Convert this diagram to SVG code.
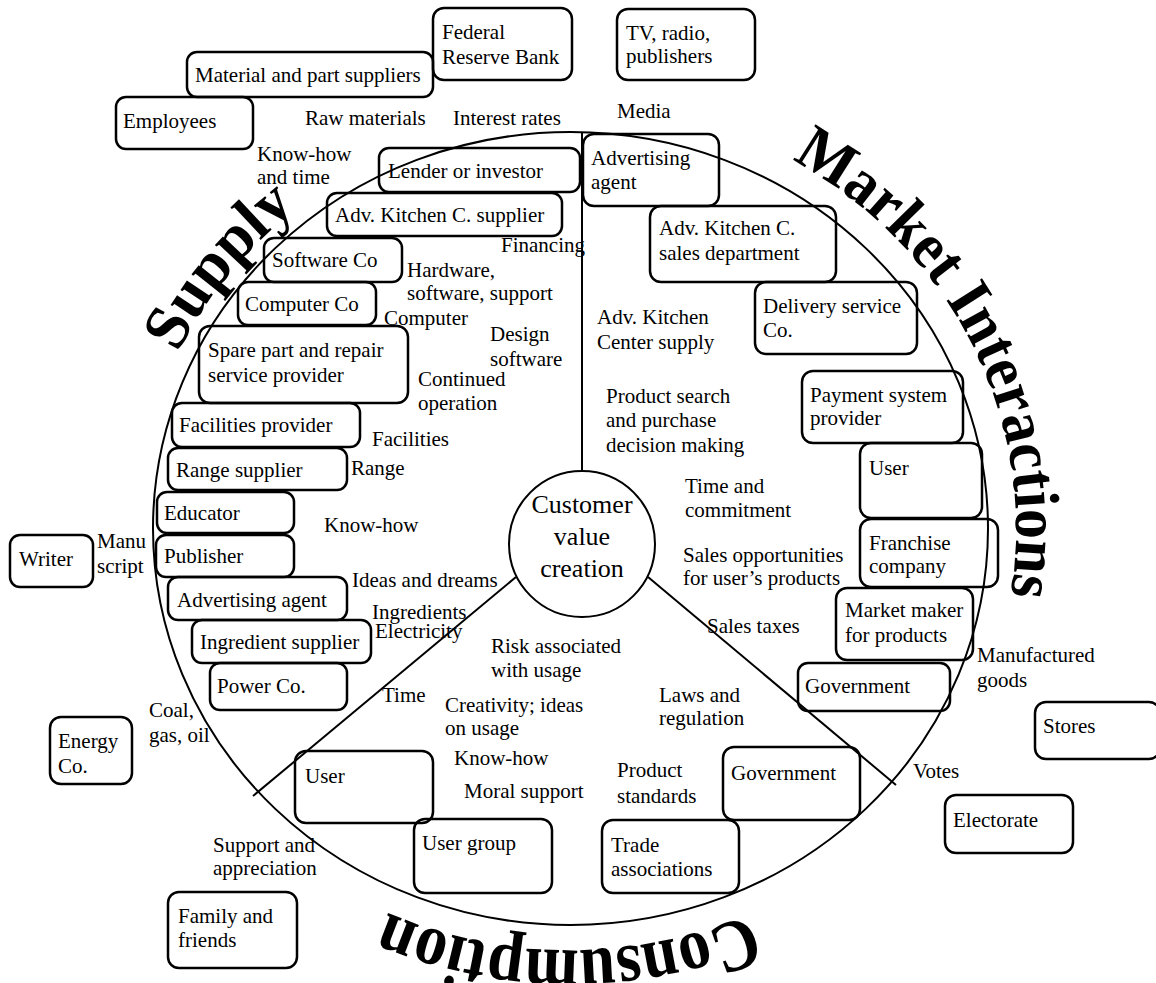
<svg xmlns="http://www.w3.org/2000/svg" width="1156" height="983" viewBox="0 0 1156 983">
<style>
.box{fill:none;stroke:#000;stroke-width:2.5}
.ln{fill:none;stroke:#000;stroke-width:2}
text{font-family:"Liberation Serif","Times New Roman",serif;font-size:21px;fill:#000}
.big{font-size:64px;font-weight:bold}
.cv{font-size:26px;text-anchor:middle}
</style>
<defs>
<path id="pS" d="M 137,528.5 A 433.5,412.5 0 1 1 1004,528.5 A 433.5,412.5 0 1 1 137,528.5"/>
<path id="pM" d="M 125,528.5 A 445.5,424.5 0 1 1 1016,528.5 A 445.5,424.5 0 1 1 125,528.5"/>
<path id="pC" d="M 128,528.5 A 442.5,421.5 0 1 1 1013,528.5 A 442.5,421.5 0 1 1 128,528.5"/>
</defs>
<rect width="1156" height="983" fill="#fff"/>
<g id="connectors">
<ellipse class="ln" cx="570.5" cy="528.5" rx="417.5" ry="396.5"/>
<line class="ln" x1="582" y1="132" x2="582" y2="472"/>
<line class="ln" x1="516" y1="577" x2="253" y2="796"/>
<line class="ln" x1="648" y1="577" x2="896" y2="785"/>
</g>
<g id="sector-titles">
<text class="big"><textPath href="#pS" startOffset="182" textLength="188" lengthAdjust="spacingAndGlyphs">Supply</textPath></text>
<text class="big"><textPath href="#pM" startOffset="914" textLength="520" lengthAdjust="spacingAndGlyphs">Market Interactions</textPath></text>
<text class="big" style="font-size:74px"><textPath href="#pC" startOffset="1852" textLength="372" lengthAdjust="spacingAndGlyphs">Consumption</textPath></text>
</g>
<g id="customer-value-creation"><circle class="ln" cx="582" cy="544" r="73"/><text class="cv" x="582" y="513">Customer</text><text class="cv" x="582" y="545">value</text><text class="cv" x="582" y="577">creation</text></g>
<g id="federal-reserve-bank"><rect class="box" x="433" y="8" width="139" height="72" rx="11"/><text x="442" y="39">Federal</text><text x="442" y="64">Reserve Bank</text></g>
<g id="tv-radio-publishers"><rect class="box" x="617" y="9" width="138" height="71" rx="11"/><text x="626" y="40">TV, radio,</text><text x="626" y="63">publishers</text></g>
<g id="material-suppliers"><rect class="box" x="187" y="52" width="246" height="45" rx="10"/><text x="195" y="82">Material and part suppliers</text></g>
<g id="employees"><rect class="box" x="116" y="97" width="137" height="52" rx="10"/><text x="123" y="128">Employees</text></g>
<g id="lender"><rect class="box" x="379" y="148" width="201" height="44" rx="10"/><text x="388" y="178">Lender or investor</text></g>
<g id="advertising-agent-top"><rect class="box" x="583" y="134" width="136" height="72" rx="11"/><text x="591" y="165">Advertising</text><text x="591" y="189">agent</text></g>
<g id="akc-supplier"><rect class="box" x="327" y="193" width="235" height="43" rx="10"/><text x="335" y="222">Adv. Kitchen C. supplier</text></g>
<g id="akc-sales"><rect class="box" x="650" y="206" width="186" height="76" rx="11"/><text x="659" y="235">Adv. Kitchen C.</text><text x="659" y="260">sales department</text></g>
<g id="software-co"><rect class="box" x="264" y="238" width="138" height="44" rx="10"/><text x="272" y="267">Software Co</text></g>
<g id="computer-co"><rect class="box" x="238" y="282" width="138" height="43" rx="10"/><text x="245" y="311">Computer Co</text></g>
<g id="delivery-service"><rect class="box" x="755" y="282" width="162" height="72" rx="11"/><text x="763" y="313">Delivery service</text><text x="763" y="337">Co.</text></g>
<g id="spare-part"><rect class="box" x="199" y="326" width="209" height="77" rx="11"/><text x="208" y="357">Spare part and repair</text><text x="208" y="382">service provider</text></g>
<g id="payment-system"><rect class="box" x="802" y="371" width="161" height="72" rx="11"/><text x="810" y="402">Payment system</text><text x="810" y="425">provider</text></g>
<g id="facilities-provider"><rect class="box" x="172" y="403" width="188" height="44" rx="10"/><text x="179" y="432">Facilities provider</text></g>
<g id="range-supplier"><rect class="box" x="168" y="448" width="179" height="42" rx="10"/><text x="176" y="477">Range supplier</text></g>
<g id="user-right"><rect class="box" x="860" y="443" width="122" height="75" rx="11"/><text x="869" y="475">User</text></g>
<g id="educator"><rect class="box" x="157" y="492" width="137" height="41" rx="10"/><text x="164" y="520">Educator</text></g>
<g id="publisher"><rect class="box" x="156" y="535" width="138" height="42" rx="10"/><text x="164" y="563">Publisher</text></g>
<g id="writer"><rect class="box" x="10" y="535" width="83" height="52" rx="10"/><text x="19" y="566">Writer</text></g>
<g id="franchise"><rect class="box" x="860" y="519" width="138" height="68" rx="11"/><text x="869" y="550">Franchise</text><text x="869" y="573">company</text></g>
<g id="advertising-agent-left"><rect class="box" x="168" y="577" width="179" height="43" rx="10"/><text x="177" y="607">Advertising agent</text></g>
<g id="ingredient-supplier"><rect class="box" x="192" y="620" width="179" height="43" rx="10"/><text x="200" y="649">Ingredient supplier</text></g>
<g id="market-maker"><rect class="box" x="836" y="588" width="137" height="72" rx="11"/><text x="845" y="617">Market maker</text><text x="845" y="642">for products</text></g>
<g id="power-co"><rect class="box" x="210" y="663" width="137" height="47" rx="10"/><text x="217" y="693">Power Co.</text></g>
<g id="government-right"><rect class="box" x="798" y="663" width="152" height="48" rx="10"/><text x="805" y="693">Government</text></g>
<g id="stores"><rect class="box" x="1035" y="702" width="125" height="57" rx="11"/><text x="1043" y="733">Stores</text></g>
<g id="energy-co"><rect class="box" x="50" y="717" width="82" height="67" rx="11"/><text x="58" y="748">Energy</text><text x="58" y="773">Co.</text></g>
<g id="user-bottom"><rect class="box" x="295" y="751" width="138" height="72" rx="11"/><text x="305" y="783">User</text></g>
<g id="government-bottom"><rect class="box" x="723" y="747" width="137" height="73" rx="11"/><text x="731" y="780">Government</text></g>
<g id="electorate"><rect class="box" x="945" y="795" width="128" height="58" rx="11"/><text x="953" y="827">Electorate</text></g>
<g id="user-group"><rect class="box" x="414" y="819" width="138" height="74" rx="11"/><text x="422" y="850">User group</text></g>
<g id="trade-associations"><rect class="box" x="602" y="820" width="137" height="73" rx="11"/><text x="611" y="852">Trade</text><text x="611" y="876">associations</text></g>
<g id="family-friends"><rect class="box" x="168" y="892" width="129" height="76" rx="11"/><text x="178" y="923">Family and</text><text x="178" y="947">friends</text></g>
<g id="flow-labels">
<text x="305" y="125">Raw materials</text>
<text x="453" y="125">Interest rates</text>
<text x="617" y="118">Media</text>
<text x="257" y="161">Know-how</text><text x="257" y="184">and time</text>
<text x="501" y="252">Financing</text>
<text x="407" y="277">Hardware,</text><text x="407" y="300">software, support</text>
<text x="384" y="325">Computer</text>
<text x="490" y="341">Design</text><text x="490" y="366">software</text>
<text x="597" y="324">Adv. Kitchen</text><text x="597" y="349">Center supply</text>
<text x="418" y="386">Continued</text><text x="418" y="410">operation</text>
<text x="606" y="403">Product search</text><text x="606" y="427">and purchase</text><text x="606" y="452">decision making</text>
<text x="372" y="446">Facilities</text>
<text x="351" y="475">Range</text>
<text x="685" y="493">Time and</text><text x="685" y="517">commitment</text>
<text x="324" y="532">Know-how</text>
<text x="97" y="548">Manu</text><text x="97" y="573">script</text>
<text x="683" y="562">Sales opportunities</text><text x="683" y="585">for user’s products</text>
<text x="352" y="587">Ideas and dreams</text>
<text x="372" y="619">Ingredients</text>
<text x="375" y="638">Electricity</text>
<text x="707" y="633">Sales taxes</text>
<text x="491" y="653">Risk associated</text><text x="491" y="677">with usage</text>
<text x="977" y="662">Manufactured</text><text x="977" y="687">goods</text>
<text x="382" y="702">Time</text>
<text x="659" y="702">Laws and</text><text x="659" y="725">regulation</text>
<text x="445" y="712">Creativity; ideas</text><text x="445" y="735">on usage</text>
<text x="149" y="717">Coal,</text><text x="149" y="742">gas, oil</text>
<text x="454" y="765">Know-how</text>
<text x="617" y="777">Product</text><text x="617" y="803">standards</text>
<text x="913" y="778">Votes</text>
<text x="464" y="798">Moral support</text>
<text x="213" y="852">Support and</text><text x="213" y="875">appreciation</text>
</g>
</svg>
